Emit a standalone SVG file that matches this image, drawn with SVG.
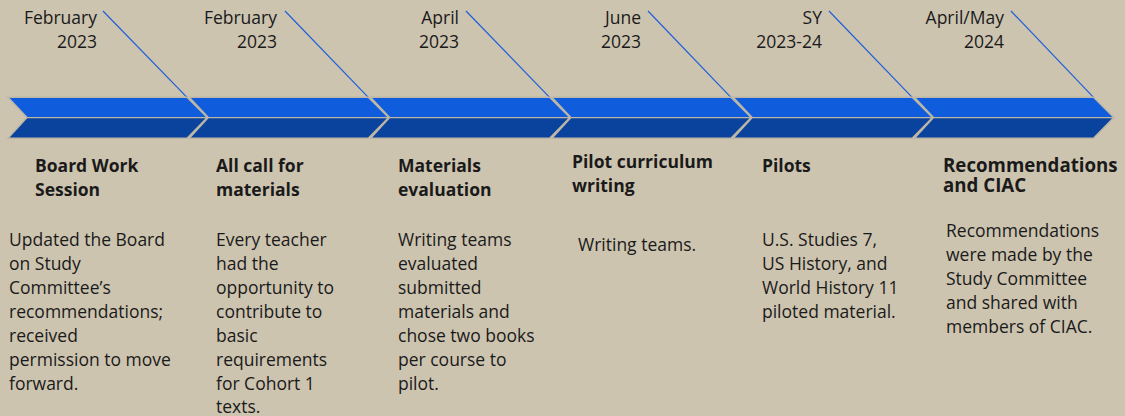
<svg xmlns="http://www.w3.org/2000/svg" width="1125" height="416" viewBox="0 0 1125 416">
<style>
.bg{fill:#CDC4B0}
.up{fill:#0F5DDD;stroke:#BDB6A6;stroke-width:1.4;stroke-linejoin:miter}
.dn{fill:#0A439E;stroke:#BDB6A6;stroke-width:1.4;stroke-linejoin:miter}
.ln{stroke:#1E5FDA;stroke-width:1.2;fill:none}
text{font-family:"Open Sans","Noto Sans","Liberation Sans",sans-serif;font-size:17.5px;fill:#1A1A1A}
.d{text-anchor:end}
.t{font-weight:700}
.big{font-size:18.7px}
</style>
<defs>
<g id="chev">
<polygon class="up" points="0,97.3 179,97.3 199.3,117.6 19,117.6"/>
<polygon class="dn" points="19,117.6 199.3,117.6 179,138.3 0,138.3"/>
</g>
</defs>
<rect class="bg" x="0" y="0" width="1125" height="416"/>
<g id="connectors">
<line class="ln" x1="103" y1="11" x2="187" y2="97.3"/>
<line class="ln" x1="285" y1="11" x2="368.3" y2="97.3"/>
<line class="ln" x1="466" y1="11" x2="549.6" y2="97.3"/>
<line class="ln" x1="648" y1="11" x2="730.9" y2="97.3"/>
<line class="ln" x1="829" y1="11" x2="912.2" y2="97.3"/>
<line class="ln" x1="1011" y1="11" x2="1093.5" y2="97.3"/>
</g>
<g id="m1">
<use href="#chev" x="8"/>
<text class="d" x="97" y="24">February</text>
<text class="d" x="97" y="47.5">2023</text>
<text class="t" x="35" y="172">Board Work</text>
<text class="t" x="35" y="196">Session</text>
<text x="9" y="246">Updated the Board</text>
<text x="9" y="270">on Study</text>
<text x="9" y="294">Committee’s</text>
<text x="9" y="318">recommendations;</text>
<text x="9" y="342">received</text>
<text x="9" y="366">permission to move</text>
<text x="9" y="390">forward.</text>
</g>
<g id="m2">
<use href="#chev" x="189.3"/>
<text class="d" x="277" y="24">February</text>
<text class="d" x="277" y="47.5">2023</text>
<text class="t" x="216" y="172">All call for</text>
<text class="t" x="216" y="196">materials</text>
<text x="216" y="246">Every teacher</text>
<text x="216" y="270">had the</text>
<text x="216" y="294">opportunity to</text>
<text x="216" y="318">contribute to</text>
<text x="216" y="342">basic</text>
<text x="216" y="366">requirements</text>
<text x="216" y="390">for Cohort 1</text>
<text x="216" y="413">texts.</text>
</g>
<g id="m3">
<use href="#chev" x="370.6"/>
<text class="d" x="459" y="24">April</text>
<text class="d" x="459" y="47.5">2023</text>
<text class="t" x="398" y="172">Materials</text>
<text class="t" x="398" y="196">evaluation</text>
<text x="398" y="246">Writing teams</text>
<text x="398" y="270">evaluated</text>
<text x="398" y="294">submitted</text>
<text x="398" y="318">materials and</text>
<text x="398" y="342">chose two books</text>
<text x="398" y="366">per course to</text>
<text x="398" y="390">pilot.</text>
</g>
<g id="m4">
<use href="#chev" x="551.9"/>
<text class="d" x="641" y="24">June</text>
<text class="d" x="641" y="47.5">2023</text>
<text class="t" x="572" y="168">Pilot curriculum</text>
<text class="t" x="572" y="192">writing</text>
<text x="578" y="251">Writing teams.</text>
</g>
<g id="m5">
<use href="#chev" x="733.2"/>
<text class="d" x="822" y="24">SY</text>
<text class="d" x="822" y="47.5">2023-24</text>
<text class="t" x="762" y="172">Pilots</text>
<text x="762" y="246">U.S. Studies 7,</text>
<text x="762" y="270">US History, and</text>
<text x="762" y="294">World History 11</text>
<text x="762" y="318">piloted material.</text>
</g>
<g id="m6">
<use href="#chev" x="914.5"/>
<text class="d" x="1004" y="24">April/May</text>
<text class="d" x="1004" y="47.5">2024</text>
<text class="t big" x="943" y="172">Recommendations</text>
<text class="t big" x="943" y="192">and CIAC</text>
<text x="946" y="237">Recommendations</text>
<text x="946" y="261">were made by the</text>
<text x="946" y="285">Study Committee</text>
<text x="946" y="309">and shared with</text>
<text x="946" y="333">members of CIAC.</text>
</g>
</svg>
